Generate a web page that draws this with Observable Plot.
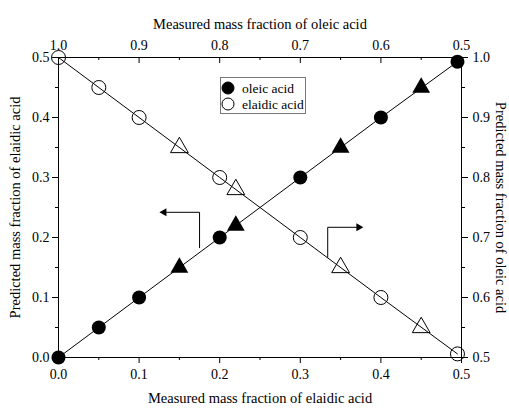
<!DOCTYPE html>
<html><head><meta charset="utf-8">
<script src="https://cdn.jsdelivr.net/npm/d3@7"></script>
<script src="https://cdn.jsdelivr.net/npm/@observablehq/plot@0.6"></script>
<style>
body{margin:0;background:#fff;}
#wrap{position:relative;width:509px;height:410px;font-family:"Liberation Serif","Times New Roman",serif;}
#legend{position:absolute;left:220px;top:77px;}
</style></head><body><div id="wrap"></div>
<script>
// ---- data ----
const oleicX = [0, 0.05, 0.1, 0.2, 0.3, 0.4, 0.495];
const oleicY = [0, 0.05, 0.1, 0.2, 0.3, 0.4, 0.493];
const oleicTriX = [0.15, 0.22, 0.35, 0.45];
const oleicTriY = [0.15, 0.22, 0.35, 0.45];
const elaidicX = [0, 0.05, 0.1, 0.2, 0.3, 0.4, 0.495];
const elaidicY = [0.5, 0.45, 0.4, 0.3, 0.2, 0.1, 0.006];
const elaidicTriX = [0.15, 0.22, 0.35, 0.45];
const elaidicTriY = [0.35, 0.28, 0.15, 0.05];
const arrowLeftX = [0.175, 0.175, 0.134];
const arrowLeftY = [0.183, 0.242, 0.242];
const arrowLeftHead = [0.131, 0.242];
const arrowRightX = [0.334, 0.334, 0.370];
const arrowRightY = [0.167, 0.217, 0.217];
const arrowRightHead = [0.3725, 0.217];
const majorTicks = [0, 0.1, 0.2, 0.3, 0.4, 0.5];
const minorTicks = [0.05, 0.15, 0.25, 0.35, 0.45];
const bottomLabels = ["0.0", "0.1", "0.2", "0.3", "0.4", "0.5"];
const topLabels = ["1.0", "0.9", "0.8", "0.7", "0.6", "0.5"];
const leftLabels = ["0.0", "0.1", "0.2", "0.3", "0.4", "0.5"];
const rightLabels = ["0.5", "0.6", "0.7", "0.8", "0.9", "1.0"];
const bottomTitle = "Measured mass fraction of elaidic acid";
const topTitle = "Measured mass fraction of oleic acid";
const leftTitle = "Predicted mass fraction of elaidic acid";
const rightTitle = "Predicted mass fraction of oleic acid";
const legendLabels = ["oleic acid", "elaidic acid"];

// ---- layout ----
const W = 509, H = 410, mL = 58, mR = 48, mT = 57, mB = 53;
const frameH = H - mT - mB;
const pts = (xs, ys) => xs.map((x, i) => ({x, y: ys[i]}));
const lab = arr => d => arr[Math.round(d * 10)];
const FONT = "Liberation Serif, Times New Roman, serif";

const chart = Plot.plot({
  width: W, height: H,
  marginLeft: mL, marginRight: mR, marginTop: mT, marginBottom: mB,
  style: {fontFamily: FONT, fontSize: "14px", background: "white", color: "black"},
  x: {domain: [0, 0.5]},
  y: {domain: [0, 0.5]},
  marks: [
    Plot.frame({stroke: "black", strokeWidth: 1}),
    // bottom axis (outward ticks)
    Plot.axisX(majorTicks, {anchor: "bottom", tickSize: 6, tickPadding: 6, tickFormat: lab(bottomLabels), label: null, fontSize: 14}),
    Plot.axisX(minorTicks, {anchor: "bottom", tickSize: 3, tickFormat: () => "", label: null}),
    // top axis (inward ticks)
    Plot.axisX(majorTicks, {anchor: "top", tickSize: 0, tickPadding: 8, tickFormat: lab(topLabels), label: null, fontSize: 14}),
    Plot.tickX(majorTicks, {x: d => d, insetBottom: frameH - 6, stroke: "black"}),
    Plot.tickX(minorTicks, {x: d => d, insetBottom: frameH - 3, stroke: "black"}),
    // left axis
    Plot.axisY(majorTicks, {anchor: "left", tickSize: 6, tickPadding: 3, tickFormat: lab(leftLabels), label: null, fontSize: 14}),
    Plot.axisY(minorTicks, {anchor: "left", tickSize: 3, tickFormat: () => "", label: null}),
    // right axis
    Plot.axisY(majorTicks, {anchor: "right", tickSize: 6, tickPadding: 5, tickFormat: lab(rightLabels), label: null, fontSize: 14}),
    Plot.axisY(minorTicks, {anchor: "right", tickSize: 3, tickFormat: () => "", label: null}),
    // titles
    Plot.text([bottomTitle], {text: d => d, frameAnchor: "bottom", textAnchor: "middle", dy: 45, fontSize: 14.5}),
    Plot.text([topTitle], {text: d => d, frameAnchor: "top", textAnchor: "middle", dy: -39, fontSize: 14.5}),
    Plot.text([leftTitle], {text: d => d, frameAnchor: "left", textAnchor: "middle", dx: -43, rotate: -90, fontSize: 14.5}),
    Plot.text([rightTitle], {text: d => d, frameAnchor: "right", textAnchor: "middle", dx: 39, rotate: 90, fontSize: 14.5}),
    // lines
    Plot.line(pts(oleicX, oleicY), {x: "x", y: "y", stroke: "black", strokeWidth: 1}),
    Plot.line(pts(elaidicX, elaidicY), {x: "x", y: "y", stroke: "black", strokeWidth: 1}),
    // arrows
    Plot.line(pts(arrowLeftX, arrowLeftY), {x: "x", y: "y", stroke: "black", strokeWidth: 1}),
    Plot.dot([arrowLeftHead], {x: d => d[0], y: d => d[1], symbol: "triangle", r: 3, fill: "black", rotate: -90}),
    Plot.line(pts(arrowRightX, arrowRightY), {x: "x", y: "y", stroke: "black", strokeWidth: 1}),
    Plot.dot([arrowRightHead], {x: d => d[0], y: d => d[1], symbol: "triangle", r: 3, fill: "black", rotate: 90}),
    // markers
    Plot.dot(pts(elaidicX, elaidicY), {x: "x", y: "y", r: 7, fill: "none", stroke: "black", strokeWidth: 1}),
    Plot.dot(pts(elaidicTriX, elaidicTriY), {x: "x", y: "y", symbol: "triangle", r: 6.6, fill: "none", stroke: "black", strokeWidth: 1}),
    Plot.dot(pts(oleicX, oleicY), {x: "x", y: "y", r: 7, fill: "black", stroke: "none"}),
    Plot.dot(pts(oleicTriX, oleicTriY), {x: "x", y: "y", symbol: "triangle", r: 6.6, fill: "black", stroke: "none"})
  ]
});
const wrap = document.getElementById("wrap");
wrap.appendChild(chart);

// legend (overlay)
const leg = d3.select(wrap).append("svg").attr("id", "legend").attr("width", 87).attr("height", 38);
leg.append("rect").attr("x", 0.5).attr("y", 0.5).attr("width", 85).attr("height", 36)
  .attr("fill", "white").attr("stroke", "#777");
legendLabels.forEach((t, i) => {
  const cy = 11 + i * 16;
  leg.append("circle").attr("cx", 8).attr("cy", cy).attr("r", 6)
    .attr("fill", i === 0 ? "black" : "white").attr("stroke", "black");
  leg.append("text").attr("x", 22).attr("y", cy + 4.5).attr("font-family", FONT)
    .attr("font-size", 13.5).text(t);
});
</script></body></html>
